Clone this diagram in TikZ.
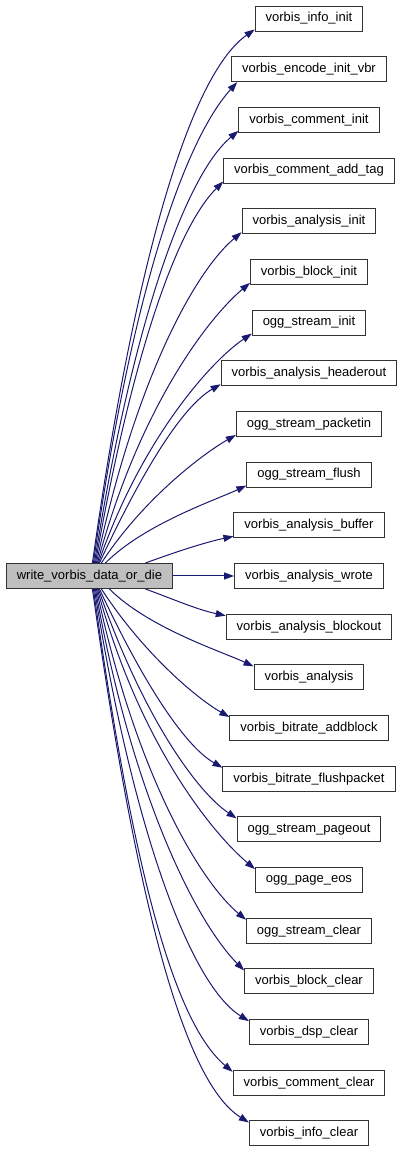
\documentclass[tikz,border=0pt]{standalone}
\usepackage{fontspec}
\setmainfont{Liberation Sans}
\usetikzlibrary{arrows.meta, positioning}
\definecolor{edgeblue}{HTML}{191970}
\definecolor{callerbg}{HTML}{BFBFBF}
\definecolor{boxline}{HTML}{333333}
\tikzset{
  fn/.style={rectangle, draw=boxline, line width=1pt, fill=white,
    minimum height=25pt, inner xsep=10.5pt, inner ysep=2pt,
    font=\fontsize{13}{15}\selectfont},
  caller/.style={fn, fill=callerbg},
  call/.style={-{Triangle[length=10pt,width=7pt]}, line width=1pt, edgeblue},
}

\begin{document}
\begin{tikzpicture}[x=1pt, y=1pt, node distance=24.68pt]
  \useasboundingbox (0,0) rectangle (403,-1152);
  \node[fn] (infoinit) at (309,-18.5) {vorbis\_info\_init};
  \node[fn, below=of infoinit] (encinit) {vorbis\_encode\_init\_vbr};
  \node[fn, below=of encinit] (cominit) {vorbis\_comment\_init};
  \node[fn, below=of cominit] (addtag) {vorbis\_comment\_add\_tag};
  \node[fn, below=of addtag] (anainit) {vorbis\_analysis\_init};
  \node[fn, below=of anainit] (blockinit) {vorbis\_block\_init};
  \node[fn, below=of blockinit] (streaminit) {ogg\_stream\_init};
  \node[fn, below=of streaminit] (headerout) {vorbis\_analysis\_headerout};
  \node[fn, below=of headerout] (packetin) {ogg\_stream\_packetin};
  \node[fn, below=of packetin] (flush) {ogg\_stream\_flush};
  \node[fn, below=of flush] (buffer) {vorbis\_analysis\_buffer};
  \node[fn, below=of buffer] (wrote) {vorbis\_analysis\_wrote};
  \node[fn, below=of wrote] (blockout) {vorbis\_analysis\_blockout};
  \node[fn, below=of blockout] (analysis) {vorbis\_analysis};
  \node[fn, below=of analysis] (addblock) {vorbis\_bitrate\_addblock};
  \node[fn, below=of addblock] (flushpacket) {vorbis\_bitrate\_flushpacket};
  \node[fn, below=of flushpacket] (pageout) {ogg\_stream\_pageout};
  \node[fn, below=of pageout] (pageeos) {ogg\_page\_eos};
  \node[fn, below=of pageeos] (streamclear) {ogg\_stream\_clear};
  \node[fn, below=of streamclear] (blockclear) {vorbis\_block\_clear};
  \node[fn, below=of blockclear] (dspclear) {vorbis\_dsp\_clear};
  \node[fn, below=of dspclear] (comclear) {vorbis\_comment\_clear};
  \node[fn, below=of comclear] (infoclear) {vorbis\_info\_clear};
  \node[caller, left=61pt of wrote] (main) {write\_vorbis\_data\_or\_die};

  % calls above the caller
  \draw[call] ([xshift=3pt]main.north) to[out=82, in=215, out distance=300pt, in distance=80pt] ([yshift=2pt]infoinit.south west);
  \draw[call] ([xshift=4pt]main.north) to[out=82, in=228, out distance=270pt, in distance=80pt] ([xshift=6pt]encinit.south west);
  \draw[call] ([xshift=5pt]main.north) to[out=81, in=220, out distance=240pt, in distance=70pt] ([yshift=2pt]cominit.south west);
  \draw[call] ([xshift=6pt]main.north) to[out=80, in=225, out distance=215pt, in distance=65pt] ([yshift=2pt]addtag.south west);
  \draw[call] ([xshift=7pt]main.north) to[out=78, in=220, out distance=190pt, in distance=60pt] ([yshift=2pt]anainit.south west);
  \draw[call] ([xshift=8pt]main.north) to[out=75, in=220, out distance=160pt, in distance=55pt] ([yshift=2pt]blockinit.south west);
  \draw[call] ([xshift=9pt]main.north) to[out=71, in=214, out distance=130pt, in distance=50pt] ([yshift=2pt]streaminit.south west);
  \draw[call] ([xshift=10pt]main.north) to[out=65, in=210, out distance=100pt, in distance=45pt] ([yshift=2pt]headerout.south west);
  \draw[call] ([xshift=12pt]main.north) to[out=57, in=210, out distance=75pt, in distance=40pt] ([yshift=2pt]packetin.south west);
  \draw[call] ([xshift=16pt]main.north) to[out=45, in=205, out distance=55pt, in distance=35pt] ([yshift=2pt]flush.south west);
  \draw[call] ([xshift=56pt]main.north) to[out=20, in=192, out distance=30pt, in distance=30pt] ([yshift=2pt]buffer.south west);
  \draw[call] (main) -- (wrote);
  % calls below the caller
  \draw[call] ([xshift=56pt]main.south) to[out=-20, in=168, out distance=30pt, in distance=30pt] ([yshift=-2pt]blockout.north west);
  \draw[call] ([xshift=20pt]main.south) to[out=-45, in=155, out distance=55pt, in distance=35pt] ([yshift=-2pt]analysis.north west);
  \draw[call] ([xshift=12pt]main.south) to[out=-57, in=150, out distance=75pt, in distance=40pt] ([yshift=-2pt]addblock.north west);
  \draw[call] ([xshift=10pt]main.south) to[out=-65, in=150, out distance=100pt, in distance=45pt] ([yshift=-2pt]flushpacket.north west);
  \draw[call] ([xshift=9pt]main.south) to[out=-71, in=146, out distance=130pt, in distance=50pt] ([yshift=-2pt]pageout.north west);
  \draw[call] ([xshift=8pt]main.south) to[out=-75, in=140, out distance=160pt, in distance=55pt] ([yshift=-2pt]pageeos.north west);
  \draw[call] ([xshift=7pt]main.south) to[out=-78, in=140, out distance=190pt, in distance=60pt] ([yshift=-2pt]streamclear.north west);
  \draw[call] ([xshift=6pt]main.south) to[out=-80, in=135, out distance=215pt, in distance=65pt] ([yshift=-2pt]blockclear.north west);
  \draw[call] ([xshift=5pt]main.south) to[out=-81, in=148, out distance=240pt, in distance=70pt] ([yshift=-2pt]dspclear.north west);
  \draw[call] ([xshift=4pt]main.south) to[out=-82, in=140, out distance=270pt, in distance=80pt] ([yshift=-2pt]comclear.north west);
  \draw[call] ([xshift=3pt]main.south) to[out=-82, in=148, out distance=300pt, in distance=80pt] ([yshift=-2pt]infoclear.north west);
\end{tikzpicture}
\end{document}
